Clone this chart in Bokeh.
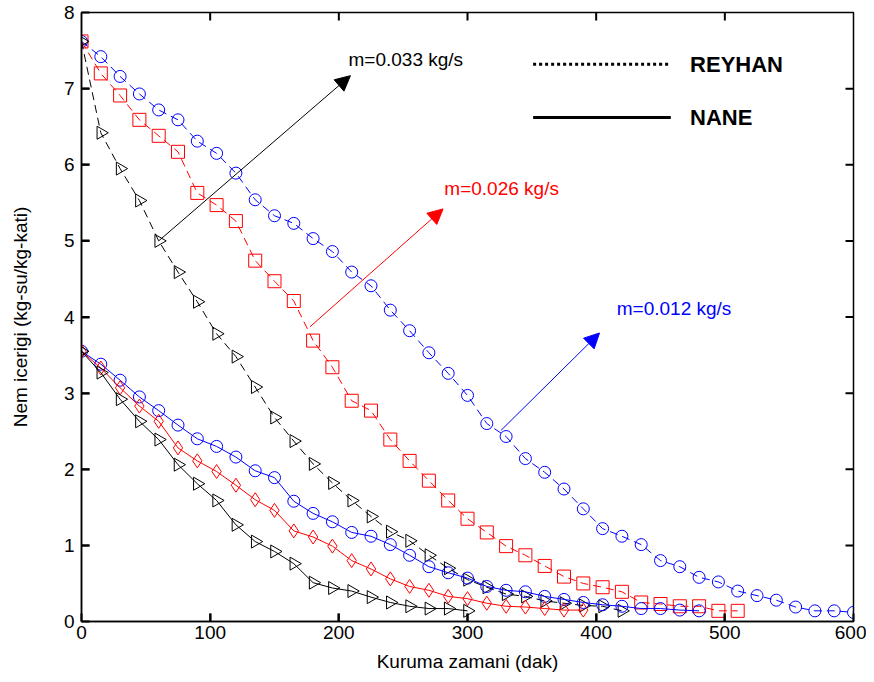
import numpy as np
from bokeh.plotting import figure
from bokeh.models import Arrow, NormalHead, Label, FixedTicker, Range1d
from bokeh.embed import file_html
from bokeh.resources import INLINE

# ---------------- data ----------------
STEP = 15  # minutes between measurements

# REYHAN (dashed lines)
reyhan_012 = [7.62, 7.42, 7.16, 6.93, 6.72, 6.59, 6.31, 6.15, 5.89, 5.54, 5.33,
              5.23, 5.03, 4.86, 4.59, 4.41, 4.09, 3.82, 3.53, 3.26, 2.97, 2.60,
              2.43, 2.14, 1.96, 1.74, 1.48, 1.22, 1.12, 1.01, 0.80, 0.72, 0.58,
              0.52, 0.40, 0.34, 0.28, 0.19, 0.14, 0.14, 0.12]
reyhan_026 = [7.62, 7.20, 6.91, 6.59, 6.38, 6.17, 5.63, 5.47, 5.26, 4.74, 4.47,
              4.21, 3.69, 3.34, 2.90, 2.77, 2.39, 2.11, 1.85, 1.59, 1.35, 1.17,
              0.99, 0.87, 0.73, 0.59, 0.50, 0.45, 0.39, 0.25, 0.23, 0.20, 0.20,
              0.14, 0.14]
reyhan_033 = [7.62, 6.42, 5.95, 5.53, 5.00, 4.59, 4.20, 3.78, 3.48, 3.08, 2.68,
              2.37, 2.07, 1.82, 1.59, 1.38, 1.18, 1.06, 0.87, 0.70, 0.55, 0.45,
              0.36, 0.33, 0.27, 0.24, 0.21, 0.20, 0.14]

# NANE (solid lines)
nane_012 = [3.55, 3.38, 3.17, 2.95, 2.77, 2.58, 2.40, 2.30, 2.16, 1.98, 1.89,
            1.58, 1.42, 1.31, 1.17, 1.12, 1.01, 0.87, 0.72, 0.64, 0.57, 0.46,
            0.41, 0.39, 0.33, 0.29, 0.25, 0.22, 0.20, 0.17, 0.17, 0.15, 0.14]
nane_026 = [3.55, 3.33, 3.07, 2.83, 2.63, 2.28, 2.11, 1.97, 1.79, 1.60, 1.46,
            1.19, 1.11, 0.99, 0.80, 0.69, 0.56, 0.46, 0.41, 0.33, 0.30, 0.24,
            0.20, 0.19, 0.17, 0.15, 0.15]
nane_033 = [3.55, 3.27, 2.92, 2.63, 2.39, 2.06, 1.81, 1.59, 1.27, 1.05, 0.92,
            0.76, 0.51, 0.44, 0.40, 0.32, 0.25, 0.20, 0.17, 0.17, 0.14]

x_ticks = [0, 100, 200, 300, 400, 500, 600]
y_ticks = [0, 1, 2, 3, 4, 5, 6, 7, 8]

x_title = "Kuruma zamani (dak)"
y_title = "Nem icerigi (kg-su/kg-kati)"
flow_labels = ["m=0.033 kg/s", "m=0.026 kg/s", "m=0.012 kg/s"]
legend_labels = ["REYHAN", "NANE"]

X_MIN, X_MAX, Y_MIN, Y_MAX = 0, 600, 0, 8


def times(arr):
    return [i * STEP for i in range(len(arr))]


# ---------------- figure ----------------
FONT = "Liberation Sans"
BLUE, RED, BLACK = "#0000ff", "#ff0000", "#000000"
FRAME_W, FRAME_H = 772, 609   # plot box size in px
TICK_LEN = 8                  # px
FRAME_LW = 1.5
TICK_LW = 2

p = figure(width=866, height=674, x_range=Range1d(X_MIN, X_MAX),
           y_range=Range1d(Y_MIN, Y_MAX),
           output_backend="svg", toolbar_location=None,
           min_border_left=81, min_border_right=13, min_border_top=12,
           min_border_bottom=53)
p.background_fill_color = "white"
p.border_fill_color = "white"
p.outline_line_color = "black"
p.outline_line_width = FRAME_LW
p.xgrid.visible = False
p.ygrid.visible = False

p.xaxis.ticker = FixedTicker(ticks=x_ticks)
p.yaxis.ticker = FixedTicker(ticks=y_ticks)
p.xaxis.axis_label = x_title
p.yaxis.axis_label = y_title

for ax in [p.xaxis[0], p.yaxis[0]]:
    ax.major_tick_in = TICK_LEN
    ax.major_tick_out = 0
    ax.major_tick_line_width = TICK_LW
    ax.axis_line_width = FRAME_LW
    ax.minor_tick_line_color = None
    ax.axis_line_color = "black"
    ax.major_tick_line_color = "black"
    ax.major_label_text_font = FONT
    ax.major_label_text_font_size = "19px"
    ax.major_label_text_color = "black"
    ax.axis_label_text_font = FONT
    ax.axis_label_text_font_size = "19px"
    ax.axis_label_text_font_style = "normal"
    ax.axis_label_text_color = "black"
p.xaxis.major_label_standoff = 4
p.yaxis.major_label_standoff = 7
p.xaxis.axis_label_standoff = 9
p.yaxis.axis_label_standoff = 30

# inward tick marks on all four edges of the box (drawn as data-space segments)
dy = TICK_LEN * (Y_MAX - Y_MIN) / FRAME_H
dx = TICK_LEN * (X_MAX - X_MIN) / FRAME_W
xt = x_ticks[1:-1]
yt = y_ticks[1:-1]
p.segment(x0=xt, y0=[Y_MAX] * len(xt), x1=xt, y1=[Y_MAX - dy] * len(xt),
          line_color="black", line_width=TICK_LW)
p.segment(x0=xt, y0=[Y_MIN] * len(xt), x1=xt, y1=[Y_MIN + dy] * len(xt),
          line_color="black", line_width=TICK_LW)
p.segment(x0=[X_MAX] * len(yt), y0=yt, x1=[X_MAX - dx] * len(yt), y1=yt,
          line_color="black", line_width=TICK_LW)
p.segment(x0=[X_MIN] * len(yt), y0=yt, x1=[X_MIN + dx] * len(yt), y1=yt,
          line_color="black", line_width=TICK_LW)

# REYHAN dashed series
DASH = "8 5"
for ys, col, mk, sz, ang in [(reyhan_012, BLUE, "circle", 12, 0.0),
                             (reyhan_026, RED, "square", 13, 0.0),
                             (reyhan_033, BLACK, "triangle", 13, -np.pi / 2)]:
    xs = times(ys)
    p.line(xs, ys, line_color=col, line_width=1, line_dash=DASH)
    p.scatter(xs, ys, marker=mk, size=sz, angle=ang, fill_color=None,
              line_color=col, line_width=1)

# NANE solid series
for ys, col, mk, sz, ang in [(nane_012, BLUE, "circle", 12, 0.0),
                             (nane_026, RED, "diamond", 14, 0.0),
                             (nane_033, BLACK, "triangle", 13, -np.pi / 2)]:
    xs = times(ys)
    p.line(xs, ys, line_color=col, line_width=1)
    p.scatter(xs, ys, marker=mk, size=sz, angle=ang, fill_color=None,
              line_color=col, line_width=1)

# arrows with flow-rate labels
arrow_specs = [((60, 5.0, 209, 7.17), BLACK, (207.5, 7.38)),
               ((177.5, 3.87, 281, 5.42), RED, (282, 5.69)),
               ((326, 2.51, 402.6, 3.79), BLUE, (416, 4.11))]
for spec, txt in zip(arrow_specs, flow_labels):
    (x0, y0, x1, y1), col, (lx, ly) = spec
    p.add_layout(Arrow(x_start=x0, y_start=y0, x_end=x1, y_end=y1,
                       line_color=col, line_width=1,
                       end=NormalHead(size=15, fill_color=col, line_color=col)))
    p.add_layout(Label(x=lx, y=ly, text=txt, text_color=col, text_font=FONT,
                       text_font_size="19px", text_align="left",
                       text_baseline="middle"))

# style key (REYHAN dotted / NANE solid)
key_x0, key_x1, key_tx = 351, 458, 473
key_y = [7.32, 6.62]
p.line([key_x0, key_x1], [key_y[0], key_y[0]], line_color="black", line_width=3,
       line_dash="3 3")
p.line([key_x0, key_x1], [key_y[1], key_y[1]], line_color="black", line_width=3)
for yy, txt in zip(key_y, legend_labels):
    p.add_layout(Label(x=key_tx, y=yy, text=txt, text_color="black",
                       text_font=FONT, text_font_size="22px",
                       text_font_style="bold", text_align="left",
                       text_baseline="middle"))

open("out.html", "w").write(file_html(p, INLINE))
